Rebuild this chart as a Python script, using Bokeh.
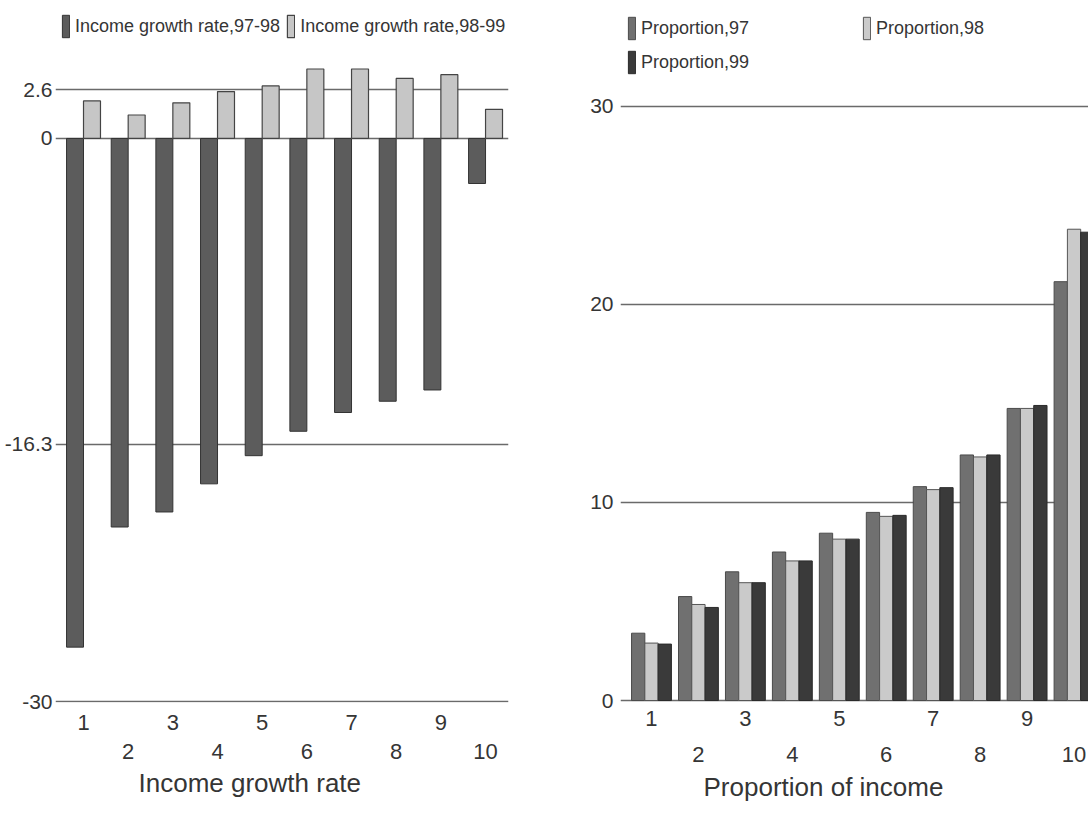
from bokeh.plotting import figure
from bokeh.models import (LinearAxis, FixedTicker, Legend, LegendItem, Range1d,
                          CustomJSTickFormatter, Title)
from bokeh.layouts import row
from bokeh.embed import file_html
from bokeh.resources import INLINE

# ---------------- data ----------------
deciles = [1, 2, 3, 4, 5, 6, 7, 8, 9, 10]
growth_97_98 = [-27.1, -20.7, -19.9, -18.4, -16.9, -15.6, -14.6, -14.0, -13.4, -2.4]
growth_98_99 = [2.0, 1.25, 1.9, 2.5, 2.8, 3.7, 3.7, 3.2, 3.4, 1.55]
growth_ticks = [-30, -16.3, 0, 2.6]

prop_97 = [3.4, 5.25, 6.5, 7.5, 8.45, 9.5, 10.8, 12.4, 14.75, 21.15]
prop_98 = [2.9, 4.85, 5.95, 7.05, 8.15, 9.3, 10.65, 12.3, 14.75, 23.8]
prop_99 = [2.85, 4.7, 5.95, 7.05, 8.15, 9.35, 10.75, 12.4, 14.9, 23.65]
prop_ticks = [0, 10, 20, 30]

odd_ticks = [1, 3, 5, 7, 9]
even_ticks = [2, 4, 6, 8, 10]

FONT = "Liberation Sans"
TXT = "#353535"
GRID = "#6a6a6a"


def style_axes(p, title, std1, std2, std3, offset):
    ax1 = LinearAxis(ticker=FixedTicker(ticks=odd_ticks))
    ax2 = LinearAxis(ticker=FixedTicker(ticks=even_ticks))
    for ax, sd in ((ax1, std1), (ax2, std2)):
        ax.axis_line_color = None
        ax.major_tick_line_color = None
        ax.minor_tick_line_color = None
        ax.major_tick_out = 0
        ax.major_tick_in = 0
        ax.major_label_standoff = sd
        ax.major_label_text_font = FONT
        ax.major_label_text_font_size = "22px"
        ax.major_label_text_color = TXT
    p.add_layout(ax1, "below")
    p.add_layout(ax2, "below")
    t = Title(text=title, align="left", offset=offset, standoff=std3,
              text_font=FONT, text_font_size="26px", text_font_style="normal",
              text_color=TXT)
    p.add_layout(t, "below")


def style_y(p, ticks, standoff):
    t = FixedTicker(ticks=ticks)
    p.yaxis.ticker = t
    p.ygrid.ticker = t
    p.yaxis.formatter = CustomJSTickFormatter(code="return String(tick)")
    p.yaxis.axis_line_color = None
    p.yaxis.major_tick_line_color = None
    p.yaxis.minor_tick_line_color = None
    p.yaxis.major_tick_out = 0
    p.yaxis.major_tick_in = 0
    p.yaxis.major_label_standoff = standoff
    p.yaxis.major_label_text_font = FONT
    p.yaxis.major_label_text_font_size = "21px"
    p.yaxis.major_label_text_color = TXT
    p.ygrid.grid_line_color = GRID
    p.ygrid.grid_line_width = 1.5


def legend(items, loc, ncols="auto", label_width=20):
    return Legend(items=items, orientation="horizontal", ncols=ncols,
                  location=loc, glyph_width=9, glyph_height=28,
                  label_standoff=5, spacing=6, label_width=label_width,
                  padding=0, margin=0, background_fill_alpha=0,
                  border_line_color=None, label_text_font=FONT,
                  label_text_font_size="18px", label_text_color=TXT)


# ---------------- left: income growth rate ----------------
p1 = figure(width=580, height=818, output_backend="svg", toolbar_location=None,
            x_axis_type=None, x_range=Range1d(0.373, 10.514),
            y_range=Range1d(-30.05, 7.35),
            min_border_left=55, min_border_right=72,
            min_border_top=0, min_border_bottom=116)
p1.outline_line_color = None
p1.background_fill_color = "white"
p1.border_fill_color = "white"
style_y(p1, growth_ticks, 3)

bw1 = 0.38
r1 = p1.vbar(x=[d - bw1 / 2 for d in deciles], top=0, bottom=growth_97_98,
             width=bw1, fill_color="#5c5c5c", line_color="#333333", line_width=1)
r2 = p1.vbar(x=[d + bw1 / 2 for d in deciles], top=growth_98_99, bottom=0,
             width=bw1, fill_color="#c6c6c6", line_color="#444444", line_width=1.2)
style_axes(p1, "Income growth rate", 12, 11, 9, 83)

p1.add_layout(legend([LegendItem(label="Income growth rate,97-98", renderers=[r1]),
                      LegendItem(label="Income growth rate,98-99", renderers=[r2])],
                     (6, 662)))

# ---------------- right: proportion of income ----------------
p2 = figure(width=508, height=818, output_backend="svg", toolbar_location=None,
            x_axis_type=None, x_range=Range1d(0.34, 10.308),
            y_range=Range1d(-0.1, 35.35),
            min_border_left=40, min_border_right=0,
            min_border_top=0, min_border_bottom=116)
p2.outline_line_color = None
p2.background_fill_color = "white"
p2.border_fill_color = "white"
style_y(p2, prop_ticks, 7)

bw2 = 0.283
s1 = p2.vbar(x=[d - bw2 for d in deciles], top=prop_97, bottom=0, width=bw2,
             fill_color="#707070", line_color="#4a4a4a", line_width=1)
s2 = p2.vbar(x=deciles, top=prop_98, bottom=0, width=bw2,
             fill_color="#cacaca", line_color="#555555", line_width=1)
s3 = p2.vbar(x=[d + bw2 for d in deciles], top=prop_99, bottom=0, width=bw2,
             fill_color="#3a3a3a", line_color="#2a2a2a", line_width=1)
style_axes(p2, "Proportion of income", 8, 18, 10, 83)

p2.add_layout(legend([LegendItem(label="Proportion,97", renderers=[s1]),
                      LegendItem(label="Proportion,98", renderers=[s2]),
                      LegendItem(label="Proportion,99", renderers=[s3])],
                     (7, 626), ncols=2, label_width=215))

layout = row(p1, p2, spacing=0)
open("out.html", "w").write(file_html(layout, INLINE))
